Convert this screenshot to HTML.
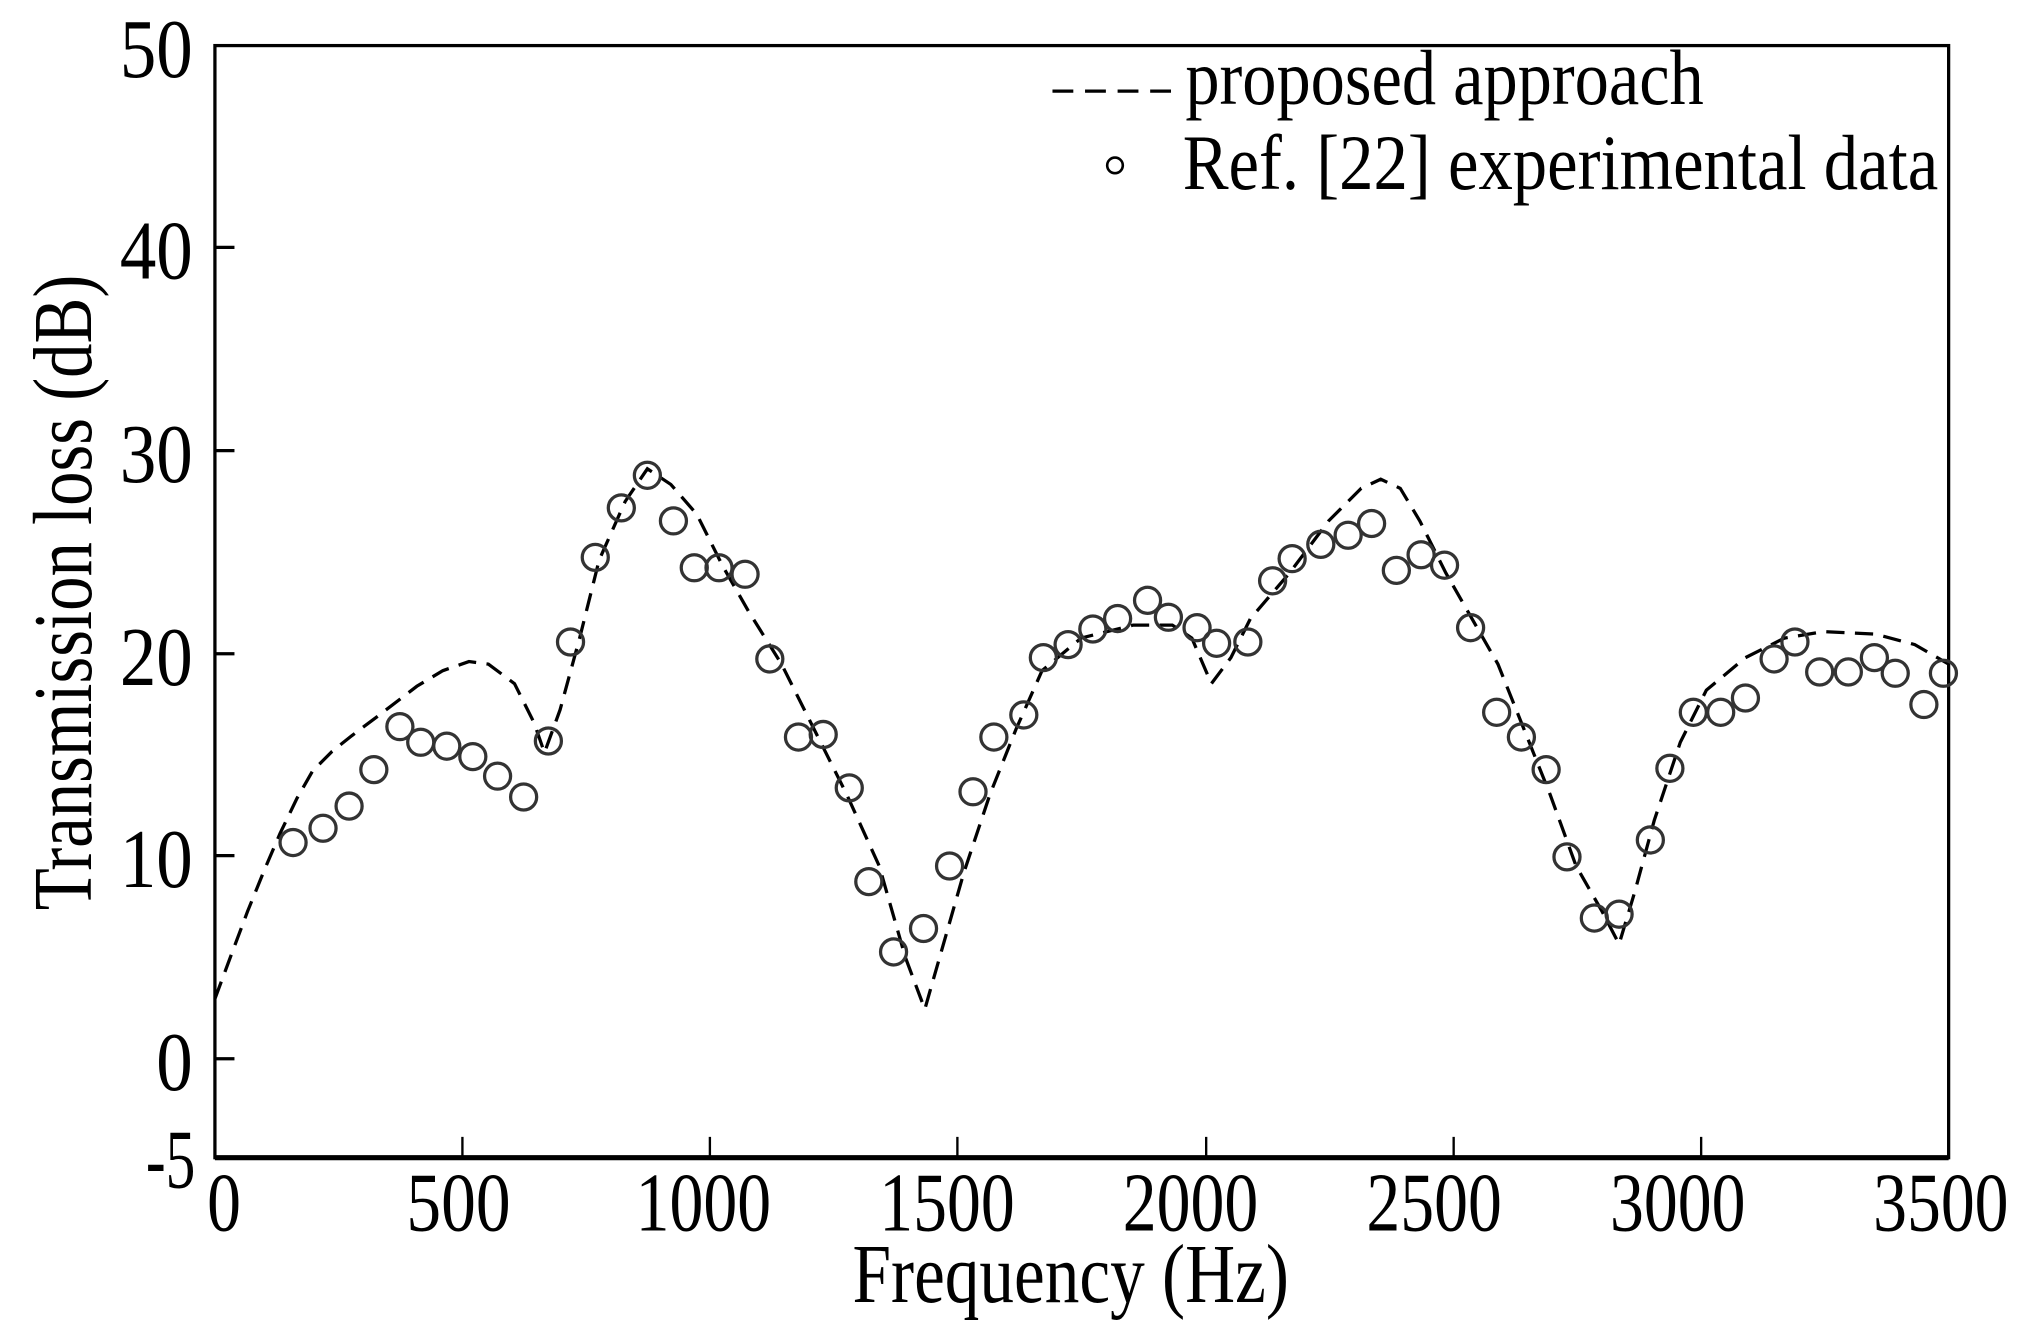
<!DOCTYPE html>
<html><head><meta charset="utf-8"><style>html,body{margin:0;padding:0;background:#fff}svg{display:block}</style></head>
<body>
<svg width="2032" height="1340" viewBox="0 0 1560 1029" preserveAspectRatio="none" xmlns="http://www.w3.org/2000/svg" font-family="Liberation Serif, serif">
<rect width="1560" height="1029" fill="#fff"/>
<g fill="none" stroke="#000">
<rect x="165" y="35" width="1331" height="854" stroke-width="2.5"/>
<line x1="165" y1="889" x2="1496" y2="889" stroke-width="4"/>
<path d="M165 190h15M165 346h15M165 502h15M165 657h15M165 813h15" stroke-width="2.5"/>
<path d="M355 889v-16M545 889v-16M735 889v-16M926 889v-16M1116 889v-16M1306 889v-16" stroke-width="1.8"/>
</g>
<g font-size="64" text-anchor="end" fill="#000">
<text x="148" y="59" textLength="56" lengthAdjust="spacingAndGlyphs">50</text>
<text x="148" y="214" textLength="56" lengthAdjust="spacingAndGlyphs">40</text>
<text x="148" y="370" textLength="56" lengthAdjust="spacingAndGlyphs">30</text>
<text x="148" y="526" textLength="56" lengthAdjust="spacingAndGlyphs">20</text>
<text x="148" y="681" textLength="56" lengthAdjust="spacingAndGlyphs">10</text>
<text x="148" y="837" textLength="28" lengthAdjust="spacingAndGlyphs">0</text>
<text x="150" y="912" textLength="38" lengthAdjust="spacingAndGlyphs">-5</text>
</g>
<g font-size="64" text-anchor="middle" fill="#000">
<text x="172" y="945" textLength="26" lengthAdjust="spacingAndGlyphs">0</text>
<text x="352" y="945" textLength="80" lengthAdjust="spacingAndGlyphs">500</text>
<text x="540" y="945" textLength="104" lengthAdjust="spacingAndGlyphs">1000</text>
<text x="727" y="945" textLength="104" lengthAdjust="spacingAndGlyphs">1500</text>
<text x="914" y="945" textLength="104" lengthAdjust="spacingAndGlyphs">2000</text>
<text x="1101" y="945" textLength="104" lengthAdjust="spacingAndGlyphs">2500</text>
<text x="1288" y="945" textLength="104" lengthAdjust="spacingAndGlyphs">3000</text>
<text x="1490" y="945" textLength="104" lengthAdjust="spacingAndGlyphs">3500</text>
<text x="822" y="1000" textLength="335" lengthAdjust="spacingAndGlyphs">Frequency (Hz)</text>
<text transform="translate(70,455) rotate(-90)" textLength="488" lengthAdjust="spacingAndGlyphs">Transmission loss (dB)</text>
</g>
<line x1="808" y1="70" x2="905" y2="70" stroke="#000" stroke-width="2.5" stroke-dasharray="16,9"/>
<text x="910" y="80" font-size="60" textLength="398" lengthAdjust="spacingAndGlyphs">proposed approach</text>
<circle cx="856" cy="127" r="6" fill="none" stroke="#000" stroke-width="2"/>
<text x="908" y="145" font-size="60" textLength="580" lengthAdjust="spacingAndGlyphs">Ref. [22] experimental data</text>
<path fill="none" stroke="#000" stroke-width="2.5" stroke-dasharray="14,8" d="M165 767L178 732L190 700L203 668L215 640L228 613L240 592L255 577L270 565L290 550L320 527L340 515L360 508L375 510L395 525L410 555L418 578L430 545L445 490L460 430L480 385L497 360L515 372L535 395L555 435L575 470L600 510L625 560L650 610L675 665L695 735L710 775L720 740L740 670L760 610L780 560L800 515L830 490L870 480L900 480L915 490L930 525L945 505L960 475L990 440L1020 400L1045 375L1060 368L1075 375L1090 400L1110 440L1130 475L1150 510L1170 560L1190 610L1210 665L1230 700L1243 725L1255 685L1270 630L1290 570L1310 530L1340 505L1370 490L1400 485L1440 487L1470 495L1496 510"/>
<g fill="none" stroke="#333" stroke-width="2.5">
<circle cx="225" cy="647" r="10"/><circle cx="248" cy="636" r="10"/><circle cx="268" cy="619" r="10"/><circle cx="287" cy="591" r="10"/><circle cx="307" cy="558" r="10"/><circle cx="323" cy="570" r="10"/><circle cx="343" cy="573" r="10"/><circle cx="363" cy="581" r="10"/><circle cx="382" cy="596" r="10"/><circle cx="402" cy="612" r="10"/><circle cx="421" cy="569" r="10"/><circle cx="438" cy="493" r="10"/><circle cx="457" cy="428" r="10"/><circle cx="477" cy="390" r="10"/><circle cx="497" cy="365" r="10"/><circle cx="517" cy="400" r="10"/><circle cx="533" cy="436" r="10"/><circle cx="552" cy="436" r="10"/><circle cx="572" cy="441" r="10"/><circle cx="591" cy="506" r="10"/><circle cx="613" cy="566" r="10"/><circle cx="632" cy="564" r="10"/><circle cx="652" cy="605" r="10"/><circle cx="667" cy="677" r="10"/><circle cx="686" cy="731" r="10"/><circle cx="709" cy="713" r="10"/><circle cx="729" cy="665" r="10"/><circle cx="747" cy="608" r="10"/><circle cx="763" cy="566" r="10"/><circle cx="786" cy="549" r="10"/><circle cx="801" cy="505" r="10"/><circle cx="820" cy="495" r="10"/><circle cx="839" cy="483" r="10"/><circle cx="858" cy="475" r="10"/><circle cx="881" cy="461" r="10"/><circle cx="897" cy="474" r="10"/><circle cx="919" cy="482" r="10"/><circle cx="934" cy="494" r="10"/><circle cx="958" cy="493" r="10"/><circle cx="977" cy="446" r="10"/><circle cx="992" cy="429" r="10"/><circle cx="1014" cy="418" r="10"/><circle cx="1035" cy="411" r="10"/><circle cx="1053" cy="402" r="10"/><circle cx="1072" cy="438" r="10"/><circle cx="1091" cy="426" r="10"/><circle cx="1109" cy="434" r="10"/><circle cx="1129" cy="482" r="10"/><circle cx="1149" cy="547" r="10"/><circle cx="1168" cy="566" r="10"/><circle cx="1187" cy="591" r="10"/><circle cx="1203" cy="658" r="10"/><circle cx="1224" cy="705" r="10"/><circle cx="1243" cy="702" r="10"/><circle cx="1267" cy="645" r="10"/><circle cx="1282" cy="590" r="10"/><circle cx="1300" cy="547" r="10"/><circle cx="1321" cy="547" r="10"/><circle cx="1340" cy="536" r="10"/><circle cx="1362" cy="506" r="10"/><circle cx="1378" cy="493" r="10"/><circle cx="1397" cy="516" r="10"/><circle cx="1419" cy="516" r="10"/><circle cx="1439" cy="505" r="10"/><circle cx="1455" cy="517" r="10"/><circle cx="1477" cy="541" r="10"/><circle cx="1492" cy="517" r="10"/>
</g>
</svg>
</body></html>
